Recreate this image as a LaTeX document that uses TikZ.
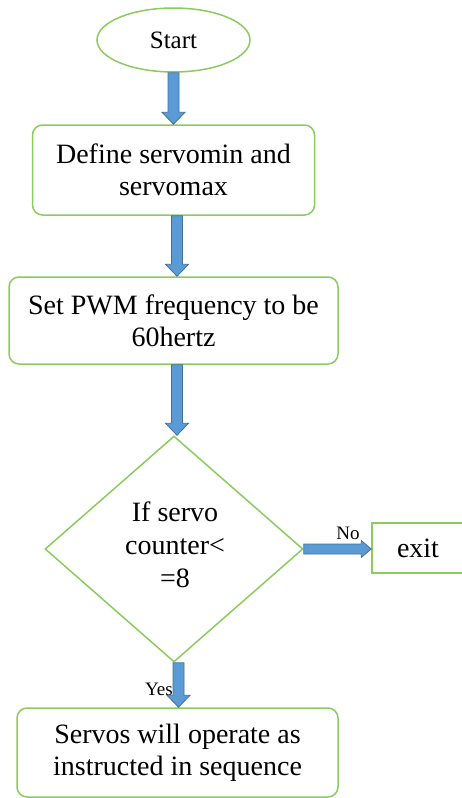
\documentclass[tikz,border=0pt]{standalone}
\usepackage{fontspec}
\setmainfont{Liberation Serif}
\usetikzlibrary{shapes.geometric,calc}
\definecolor{boxgreen}{RGB}{140,203,94}
\definecolor{arrowblue}{RGB}{91,155,213}
\definecolor{arrowedge}{RGB}{65,113,156}
\tikzset{
  boxline/.style={draw=boxgreen, line width=1.5pt, fill=white},
  procbox/.style={boxline, rectangle, rounded corners=10pt, inner sep=0pt, align=center, font=\fontsize{28}{32}\selectfont},
  termbox/.style={boxline, ellipse, inner sep=0pt, font=\fontsize{25}{30}\selectfont},
  decbox/.style={boxline, diamond, inner sep=0pt, align=center, font=\fontsize{28}{33}\selectfont},
  exitbox/.style={boxline, rectangle, inner sep=0pt, font=\fontsize{28}{32}\selectfont},
  blockarrow/.style={fill=arrowblue, draw=arrowedge, line width=0.8pt, line join=miter},
  arrlabel/.style={inner sep=0pt, font=\fontsize{19}{22}\selectfont}
}
% vertical block arrow: from #1.south to #2.north, x offset #3
\newcommand\blkdown[3]{%
  \draw[blockarrow] let \p1=(#1.south), \p2=(#2.north) in
   (\x1+#3-5.5pt,\y1) -- (\x1+#3+5.5pt,\y1) -- (\x1+#3+5.5pt,\y2+12pt) --
   (\x1+#3+11.5pt,\y2+12pt) -- (\x1+#3,\y2) -- (\x1+#3-11.5pt,\y2+12pt) --
   (\x1+#3-5.5pt,\y2+12pt) -- cycle;}
% horizontal block arrow: from #1.east to #2.west
\newcommand\blkright[2]{%
  \draw[blockarrow] let \p1=(#1.east), \p2=(#2.west) in
   (\x1,\y1+5pt) -- (\x2-10pt,\y1+5pt) -- (\x2-10pt,\y1+8.5pt) -- (\x2,\y1) --
   (\x2-10pt,\y1-8.5pt) -- (\x2-10pt,\y1-5pt) -- (\x1,\y1-5pt) -- cycle;}
\begin{document}
\begin{tikzpicture}[x=1pt,y=-1pt]
\useasboundingbox (0,0) rectangle (462,798);
\node[termbox, minimum width=153pt, minimum height=64pt] (start) at (173.5,40) {Start};
\node[procbox, minimum width=282pt, minimum height=90pt] (def) at (173.5,170) {Define servomin and\\servomax};
\node[procbox, minimum width=329pt, minimum height=87pt] (pwm) at (173.5,320.5) {Set PWM frequency to be\\60hertz};
\node[decbox, minimum width=258pt, minimum height=226pt] (dec) at (174,549) {};
\node[align=center, inner sep=0pt, font=\fontsize{28}{33}\selectfont] (dectext) at (175,545) {If servo\\counter<\\=8};
\node[exitbox, minimum width=92pt, minimum height=50pt] (exit) at (418,548) {exit};
\node[procbox, minimum width=321pt, minimum height=89pt] (act) at (177.5,752.5) {Servos will operate as\\instructed in sequence};
\node[arrlabel] (nolab) at (348,533) {No};
\node[arrlabel] (yeslab) at (159,689) {Yes};
\blkdown{start}{def}{0pt}
\blkdown{def}{pwm}{3.5pt}
\blkdown{pwm}{dec}{3.5pt}
\blkdown{dec}{act}{4.5pt}
\blkright{dec}{exit}
\end{tikzpicture}
\end{document}
